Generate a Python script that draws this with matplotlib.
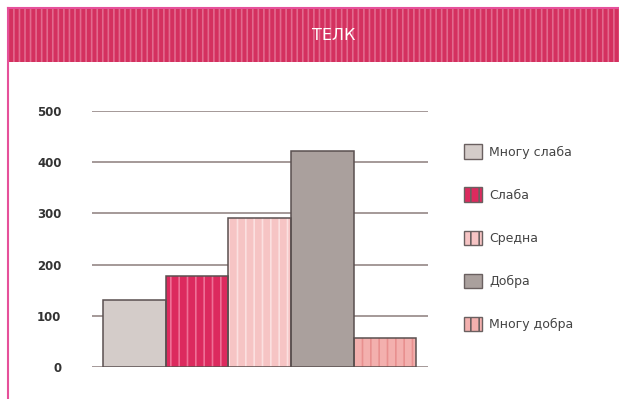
# -*- coding: utf-8 -*-
"""
ТЕЛК bar chart - single group, five grades
"""
import matplotlib
matplotlib.use('Agg')
from matplotlib import pyplot as plt
from matplotlib.patches import Rectangle

TITLE = u'ТЕЛК'
grades = [u'Многу слаба', u'Слаба', u'Средна', u'Добра', u'Многу добра']
counts = [130, 177, 291, 421, 56]
yticks = [0, 100, 200, 300, 400, 500]

face = ['#d4ccc9', '#dc2a5e', '#f6c4c4', '#aaa09d', '#f3b0ae']
hatch_col = ['#e2dcd9', '#ee7096', '#fbe0e0', '#bdb3b0', '#e8908f']
hatches = ['', '||', '||', '', '||']


def main():
    plt.rcParams['hatch.linewidth'] = 1.2
    fig = plt.figure(figsize=(6.19, 3.99), dpi=100)
    fig.patch.set_facecolor('white')

    # title band and frame
    band = Rectangle((8 / 619., 1 - 62 / 399.), 1 - 8 / 619., 54 / 399.,
                     transform=fig.transFigure, facecolor='#d4305f',
                     edgecolor='#e26a8e', hatch='|||', linewidth=0)
    fig.patches.append(band)
    fig.add_artist(plt.Line2D([8 / 619., 8 / 619.], [0, 1 - 8 / 399.],
                              transform=fig.transFigure, color='#e6509a', lw=1.5))
    fig.add_artist(plt.Line2D([8 / 619., 1], [1 - 8 / 399., 1 - 8 / 399.],
                              transform=fig.transFigure, color='#e6509a', lw=1.5))
    fig.text(334 / 619., 1 - 35 / 399., TITLE, color='white', fontsize=11.5,
             ha='center', va='center', family='DejaVu Sans')

    ax = fig.add_axes([92 / 619., 32 / 399., 336 / 619., 256 / 399.])
    handles = []
    for n, (lab, v) in enumerate(zip(grades, counts)):
        ax.bar(n, v, width=1.0, color=face[n], edgecolor=hatch_col[n],
               hatch=hatches[n], linewidth=0, zorder=2, label=lab)
        ax.bar(n, v, width=1.0, fill=False, edgecolor='#5a5050',
               linewidth=1.1, zorder=3)
        handles.append(Rectangle((0, 0), 1, 1, facecolor=face[n],
                                 edgecolor='#6a6060', hatch=hatches[n],
                                 linewidth=1.0))
    ax.set_xlim(-0.68, 4.69)
    ax.set_ylim(0, 500)
    ax.set_yticks(yticks)
    ax.set_yticklabels([str(t) for t in yticks], fontsize=8.5,
                       fontweight='bold', color='#333333')
    ax.tick_params(axis='y', length=0, pad=22)
    ax.set_xticks([])
    for s in ax.spines.values():
        s.set_visible(False)
    ax.grid(True, axis='y', color='#958886', linewidth=1.2, zorder=1)
    ax.set_axisbelow(True)
    ax.set_facecolor('none')

    leg = fig.legend(handles, grades, loc='upper left',
                     bbox_to_anchor=(458 / 619., 1 - 138 / 399.),
                     frameon=False, fontsize=9, handlelength=1.4,
                     handleheight=1.4, labelspacing=2.3, handletextpad=0.6,
                     borderpad=0)
    for t in leg.get_texts():
        t.set_color('#444444')

    fig.savefig('out.png', dpi=100)


if __name__ == '__main__':
    main()
